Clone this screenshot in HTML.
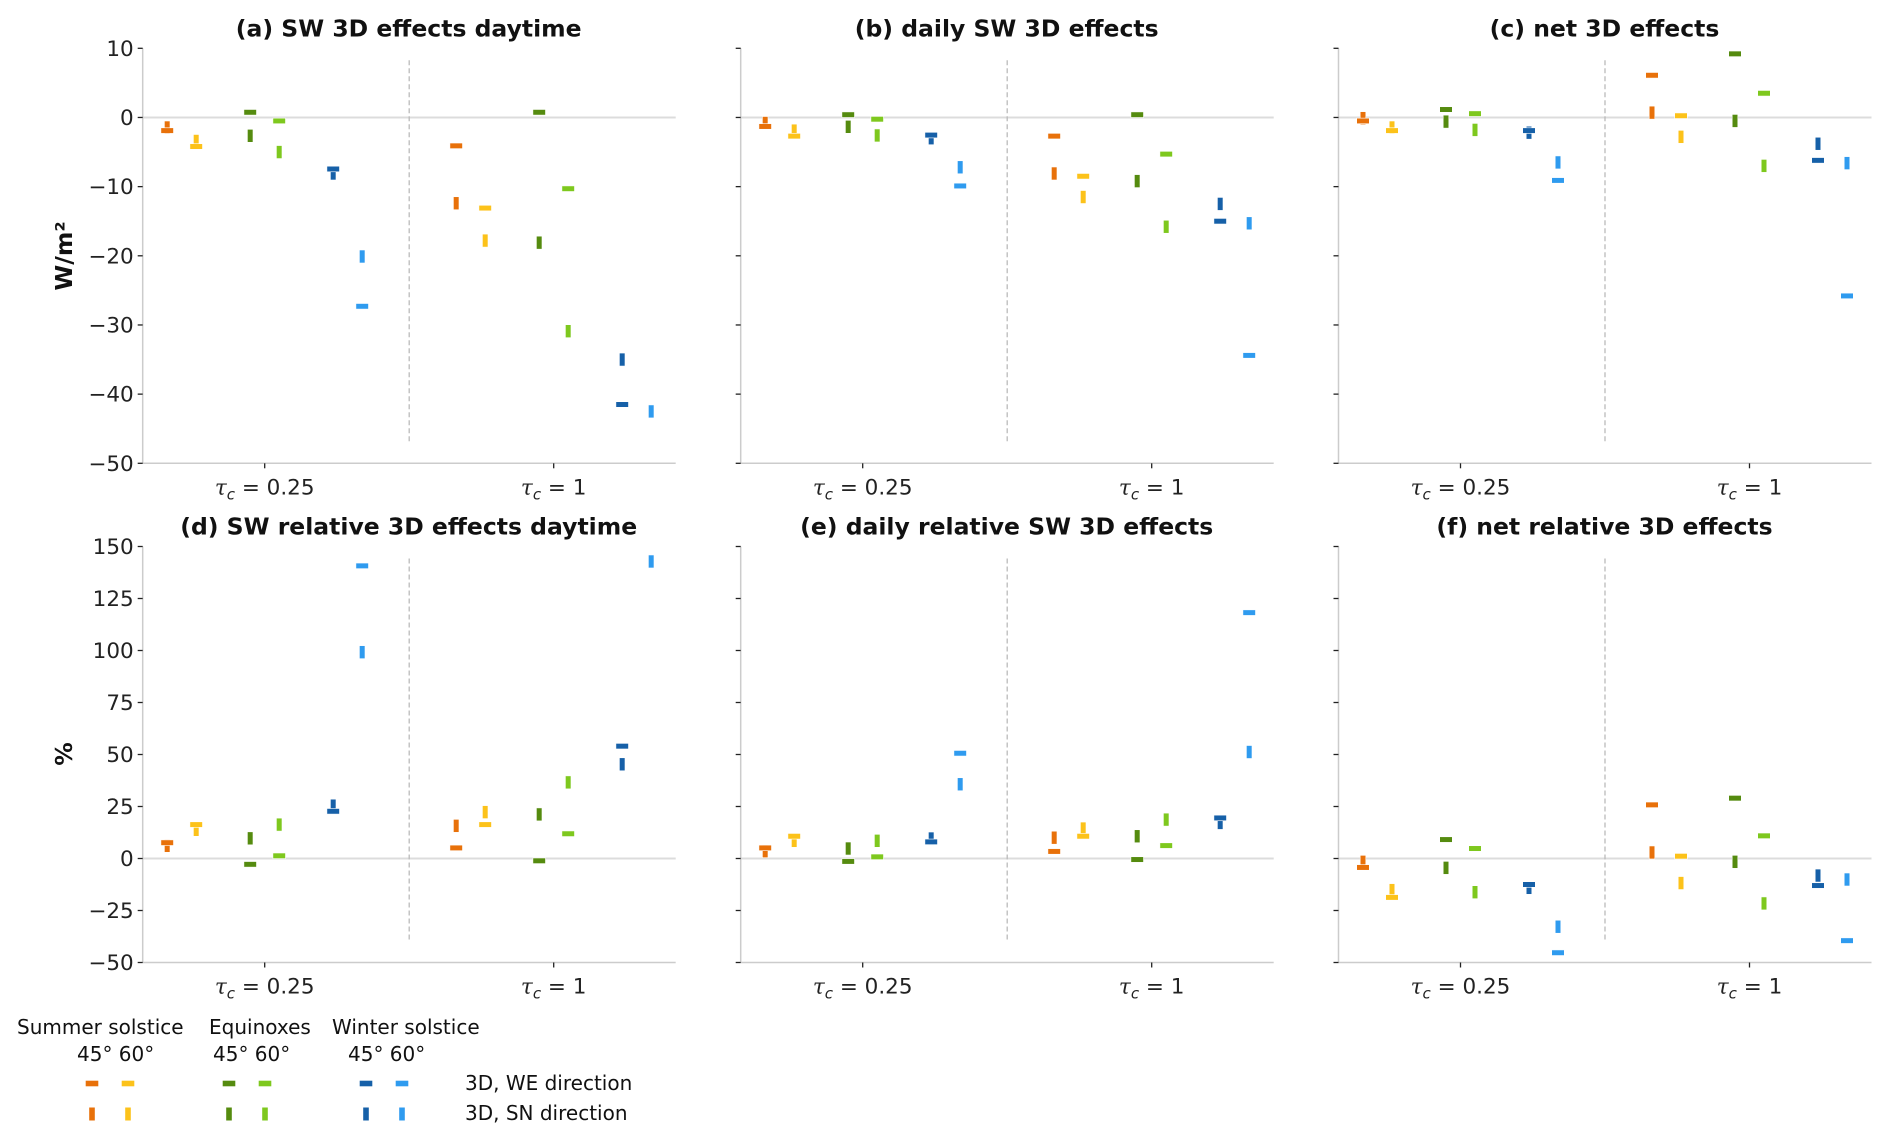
<!DOCTYPE html>
<html><head><meta charset="utf-8"><title>3D effects</title>
<style>
html,body{margin:0;padding:0;background:#fff;}
svg{display:block;font-family:"DejaVu Sans","Liberation Sans",sans-serif;}
</style></head>
<body>
<svg id="fig" width="1892" height="1138" viewBox="0 0 1892 1138" xmlns="http://www.w3.org/2000/svg"></svg>
<script>
// Category order within each tau group: summer45, summer60, equinox45, equinox60, winter45, winter60
const groupLabels = ["0.25", "1"];
const seriesNames = ["summer-45", "summer-60", "equinox-45", "equinox-60", "winter-45", "winter-60"];
const topTicks = [10, 0, -10, -20, -30, -40, -50];
const bottomTicks = [150, 125, 100, 75, 50, 25, 0, -25, -50];

// (a) SW 3D effects daytime
const aWE = [-1.9, -4.2, 0.75, -0.5, -7.45, -27.3, -4.1, -13.1, 0.75, -10.3, -41.5, null];
const aSN = [-1.45, -3.4, -2.65, -5.0, -8.1, -20.1, -12.4, -17.8, -18.1, -30.9, -35.0, -42.5];
// (b) daily SW 3D effects
const bWE = [-1.3, -2.7, 0.4, -0.25, -2.55, -9.9, -2.7, -8.5, 0.4, -5.3, -15.0, -34.4];
const bSN = [-0.8, -1.9, -1.35, -2.6, -3.0, -7.2, -8.1, -11.5, -9.2, -15.8, -12.5, -15.3];
// (c) net 3D effects
const cWE = [-0.5, -1.9, 1.15, 0.55, -1.9, -9.1, 6.1, 0.25, 9.2, 3.5, -6.2, -25.8];
const cSN = [-0.1, -1.45, -0.6, -1.8, -2.2, -6.5, 0.7, -2.8, -0.5, -7.0, -3.8, -6.6];
// (d) SW relative 3D effects daytime
const dWE = [7.6, 16.3, -2.8, 1.3, 22.7, 140.7, 5.1, 16.3, -1.1, 11.9, 54.0, null];
const dSN = [6.1, 13.8, 9.7, 16.3, 25.4, 99.2, 15.7, 22.3, 21.2, 36.6, 45.3, 142.8];
// (e) daily relative SW 3D effects
const eWE = [5.1, 10.7, -1.4, 0.8, 8.0, 50.6, 3.4, 10.7, -0.5, 6.2, 19.5, 118.2];
const eSN = [3.5, 8.5, 4.8, 8.5, 9.6, 35.7, 10.0, 14.4, 10.7, 18.7, 17.1, 51.2];
// (f) net relative 3D effects
const fWE = [-4.3, -18.7, 9.1, 4.8, -12.5, -45.3, 25.8, 1.1, 29.0, 10.9, -13.0, -39.5];
const fSN = [-1.6, -15.2, -4.5, -16.2, -14.1, -32.8, 2.9, -11.8, -1.6, -21.6, -8.2, -10.1];

const colors = ["#e8710a", "#fcc21a", "#558b0f", "#7ec81e", "#1660a8", "#2f9bef"];
const offsets = [-97.5, -68.5, -14.5, 14.5, 68.5, 97.5];

const NS = "http://www.w3.org/2000/svg";
const svg = document.getElementById("fig");
function mk(tag, attrs, parent, text) {
  const e = document.createElementNS(NS, tag);
  for (const k in attrs) e.setAttribute(k, attrs[k]);
  if (text !== undefined) e.textContent = text;
  (parent || svg).appendChild(e);
  return e;
}
function fmt(v) { return v < 0 ? "\u2212" + Math.abs(v) : String(v); }

const panels = [
  {id: "a", title: "(a) SW 3D effects daytime", col: 0, row: 0, we: aWE, sn: aSN},
  {id: "b", title: "(b) daily SW 3D effects", col: 1, row: 0, we: bWE, sn: bSN},
  {id: "c", title: "(c) net 3D effects", col: 2, row: 0, we: cWE, sn: cSN},
  {id: "d", title: "(d) SW relative 3D effects daytime", col: 0, row: 1, we: dWE, sn: dSN},
  {id: "e", title: "(e) daily relative SW 3D effects", col: 1, row: 1, we: eWE, sn: eSN},
  {id: "f", title: "(f) net relative 3D effects", col: 2, row: 1, we: fWE, sn: fSN}
];
const colLeft = [142.7, 740.7, 1338.5];
const axW = 533;
const rows = [
  {top: 48.3, bottom: 463.3, vmax: 10, vmin: -50, ticks: topTicks},
  {top: 546.5, bottom: 962.5, vmax: 150, vmin: -50, ticks: bottomTicks}
];

panels.forEach(p => {
  const L = colLeft[p.col], R = L + axW, rw = rows[p.row];
  const y = v => rw.top + (rw.vmax - v) / (rw.vmax - rw.vmin) * (rw.bottom - rw.top);
  const groupX = [L + 122, L + 411];
  const g = mk("g", {});
  
  
  const clipId = "clip-" + p.id;
  const cp = mk("clipPath", {id: clipId}, g);
  mk("rect", {x: L, y: rw.top - 4, width: axW, height: rw.bottom - rw.top + 4}, cp);

  const title = mk("text", {x: L + 266, y: rw.top - 12, "text-anchor": "middle", "font-size": "23.5", "font-weight": "bold", fill: "#111"}, g, p.title);
  
  

  const z = mk("line", {x1: L, x2: R, y1: y(0), y2: y(0), stroke: "#dcdcdc", "stroke-width": 2}, g);
  
  
  const dv = mk("line", {x1: (groupX[0] + groupX[1]) / 2, x2: (groupX[0] + groupX[1]) / 2, y1: rw.top + 12, y2: rw.bottom - 20, stroke: "#bbbbbb", "stroke-width": 1.3, "stroke-dasharray": "5,3"}, g);
  
  
  const ys = mk("line", {x1: L, x2: L, y1: rw.top, y2: rw.bottom, stroke: "#cccccc", "stroke-width": 1.5}, g);
  
  
  const xs = mk("line", {x1: L, x2: R, y1: rw.bottom, y2: rw.bottom, stroke: "#cccccc", "stroke-width": 1.5}, g);
  
  
  rw.ticks.forEach(t => {
    const tk = mk("line", {x1: L - 5, x2: L, y1: y(t), y2: y(t), stroke: "#222", "stroke-width": 1.3}, g);
    
    
    if (p.col === 0) {
      const tl = mk("text", {x: L - 9, y: y(t) + 7.5, "text-anchor": "end", "font-size": "21.5", fill: "#222"}, g, fmt(t));
      
      
    }
  });
  groupLabels.forEach((lab, gi) => {
    const tk = mk("line", {x1: groupX[gi], x2: groupX[gi], y1: rw.bottom, y2: rw.bottom + 5, stroke: "#222", "stroke-width": 1.3}, g);
    
    
    const tl = mk("text", {x: groupX[gi], y: rw.bottom + 31, "text-anchor": "middle", "font-size": "21.5", fill: "#222"}, g);
    
    
    mk("tspan", {"font-style": "italic", "font-family": "DejaVu Serif, serif"}, tl, "\u03C4");
    mk("tspan", {"font-style": "italic", "font-size": "15", dy: "5"}, tl, "c");
    mk("tspan", {dy: "-5"}, tl, " = " + lab);
  });
  const mg = mk("g", {"clip-path": "url(#" + clipId + ")"}, g);
  for (let i = 0; i < 12; i++) {
    const gi = Math.floor(i / 6), si = i % 6;
    const cx = groupX[gi] + offsets[si];
    if (p.sn[i] !== null) {
      const r = mk("rect", {x: cx - 2.8, y: y(p.sn[i]) - 6.5, width: 5.6, height: 13, fill: colors[si], stroke: "#fff", "stroke-width": 0.6}, mg);
      
      
    }
    if (p.we[i] !== null) {
      const r = mk("rect", {x: cx - 6.3, y: y(p.we[i]) - 2.8, width: 12.6, height: 5.6, fill: colors[si], stroke: "#fff", "stroke-width": 0.6}, mg);
      
      
    }
  }
});

const yl1 = mk("text", {x: 0, y: 0, transform: "translate(72,256) rotate(-90)", "text-anchor": "middle", "font-size": "23.5", "font-weight": "bold", fill: "#111"}, svg, "W/m\u00B2");


const yl2 = mk("text", {x: 0, y: 0, transform: "translate(72,754) rotate(-90)", "text-anchor": "middle", "font-size": "23.5", "font-weight": "bold", fill: "#111"}, svg, "%");



const lg = mk("g", {});


const legendHeads = ["Summer solstice", "Equinoxes", "Winter solstice"];
const legendHeadX = [17, 209, 332];
const legendSubX = [77, 213, 348];
const legendMarkX = [92, 128, 229, 265, 366, 402];
legendHeads.forEach((h, i) => {
  const t = mk("text", {x: legendHeadX[i], y: 1034, "font-size": "20", fill: "#111"}, lg, h);
  
  
  const s = mk("text", {x: legendSubX[i], y: 1061, "font-size": "20", fill: "#111"}, lg, "45\u00B0 60\u00B0");
  
  
});
legendMarkX.forEach((x, i) => {
  const r1 = mk("rect", {x: x - 6.3, y: 1083.5 - 2.8, width: 12.6, height: 5.6, fill: colors[i]}, lg);
  
  
  const r2 = mk("rect", {x: x - 2.8, y: 1114 - 6.5, width: 5.6, height: 13, fill: colors[i]}, lg);
  
  
});
const lt1 = mk("text", {x: 465, y: 1090, "font-size": "20", fill: "#111"}, lg, "3D, WE direction");


const lt2 = mk("text", {x: 465, y: 1120, "font-size": "20", fill: "#111"}, lg, "3D, SN direction");


</script>
</body></html>
